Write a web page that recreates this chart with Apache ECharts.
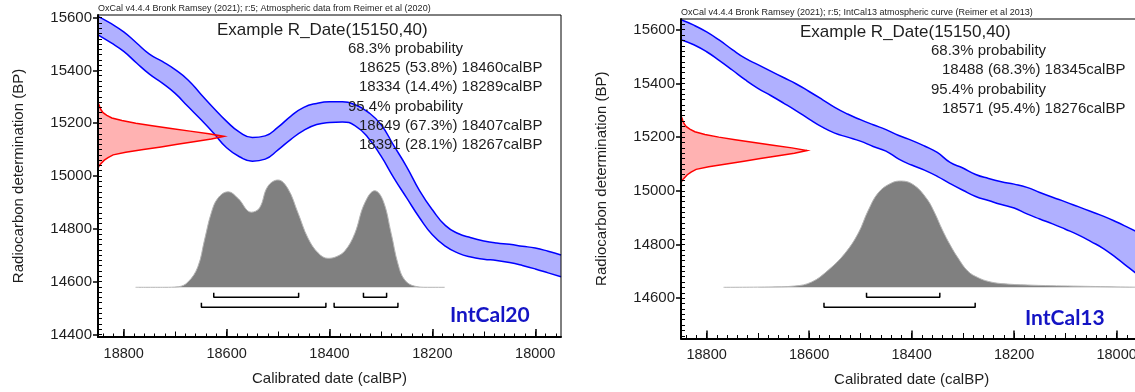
<!DOCTYPE html>
<html>
<head>
<meta charset="utf-8">
<title>Example R_Date(15150,40) - IntCal20 / IntCal13</title>
<script src="https://cdn.jsdelivr.net/npm/echarts@6/dist/echarts.min.js"></script>
<style>
    html, body { margin: 0; padding: 0; background: #fff; }
    #chart { width: 1135px; height: 392px; }
</style>
</head>
<body>
<div id="chart"></div>
<script>
// 日历年 (calBP)，校正曲线的取样点
const years = [18850, 18825, 18800, 18775, 18750, 18725, 18700, 18675, 18650, 18625,
    18600, 18575, 18550, 18525, 18500, 18475, 18450, 18425, 18400, 18375,
    18350, 18325, 18300, 18275, 18250, 18225, 18200, 18175, 18150, 18125,
    18100, 18075, 18050, 18025, 18000, 17975, 17950]

// IntCal20 曲线上下沿 (BP)
const upper20 = [15605, 15578, 15546, 15504, 15462, 15434, 15403, 15364, 15310, 15257,
    15207, 15166, 15146, 15152, 15185, 15227, 15260, 15275, 15281, 15281,
    15270, 15242, 15195, 15115, 15035, 14945, 14872, 14813, 14782, 14766,
    14754, 14746, 14741, 14734, 14727, 14715, 14701]
const lower20 = [15535, 15505, 15472, 15428, 15386, 15352, 15313, 15263, 15214, 15162,
    15107, 15073, 15056, 15064, 15099, 15139, 15173, 15195, 15203, 15205,
    15190, 15145, 15076, 14993, 14917, 14842, 14777, 14734, 14708, 14693,
    14685, 14680, 14672, 14661, 14648, 14633, 14618]

// IntCal13 曲线上下沿 (BP)
const upper13 = [15637, 15617, 15592, 15561, 15526, 15494, 15470, 15446, 15422, 15398,
    15370, 15341, 15311, 15286, 15265, 15246, 15228, 15206, 15188, 15167,
    15143, 15106, 15085, 15061, 15046, 15034, 15025, 15013, 14994, 14976,
    14959, 14941, 14923, 14905, 14884, 14861, 14838]
const lower13 = [15563, 15544, 15518, 15485, 15450, 15414, 15382, 15355, 15327, 15298,
    15267, 15238, 15215, 15200, 15185, 15165, 15148, 15118, 15096, 15077,
    15054, 15027, 15002, 14979, 14964, 14949, 14936, 14914, 14895, 14877,
    14857, 14836, 14811, 14784, 14749, 14712, 14675]

// R_Date(15150,40) 的测量分布 (相对概率)
const redBP = [15030, 15040, 15050, 15060, 15070, 15080, 15090, 15100, 15110, 15120,
    15130, 15140, 15150, 15160, 15170, 15180, 15190, 15200, 15210, 15220,
    15230, 15240, 15250, 15260, 15270, 15278]
const redProb = [0, 0.01, 0.03, 0.05, 0.08, 0.12, 0.22, 0.36, 0.50, 0.63,
    0.76, 0.90, 1.0, 0.88, 0.73, 0.58, 0.43, 0.30, 0.19, 0.11,
    0.07, 0.04, 0.025, 0.015, 0.008, 0]

// 校正后的日历年分布 (相对概率)
const cal20Years = [18777, 18720, 18694, 18675, 18656, 18643, 18630, 18617, 18597, 18578,
    18552, 18536, 18520, 18500, 18481, 18461, 18442, 18422, 18403, 18387,
    18370, 18351, 18332, 18312, 18296, 18280, 18267, 18254, 18234, 18210, 18176]
const cal20Prob = [0, 0, 0.005, 0.05, 0.19, 0.44, 0.69, 0.83, 0.89, 0.83,
    0.70, 0.74, 0.94, 1.0, 0.92, 0.69, 0.46, 0.32, 0.27, 0.285,
    0.34, 0.50, 0.78, 0.90, 0.81, 0.50, 0.22, 0.07, 0.01, 0, 0]

const cal13Years = [18767, 18680, 18628, 18595, 18563, 18530, 18504, 18485, 18465, 18440,
    18420, 18395, 18370, 18355, 18340, 18325, 18310, 18290, 18270, 18250,
    18225, 18165, 18070, 17950]
const cal13Prob = [0, 0.003, 0.012, 0.05, 0.16, 0.32, 0.51, 0.72, 0.89, 0.98,
    1.0, 0.96, 0.83, 0.70, 0.54, 0.40, 0.28, 0.15, 0.09, 0.055,
    0.035, 0.02, 0.01, 0]

// 置信区间 (from, to)
const ranges20_68 = [[18625, 18460], [18334, 18289]]
const ranges20_95 = [[18649, 18407], [18391, 18267]]
const ranges13_68 = [[18488, 18345]]
const ranges13_95 = [[18571, 18276]]

// 刻度标签
const xTicks = [18800, 18600, 18400, 18200, 18000]
const yTicks20 = [14400, 14600, 14800, 15000, 15200, 15400, 15600]
const yTicks13 = [14600, 14800, 15000, 15200, 15400, 15600]

// 文字
const header20 = 'OxCal v4.4.4 Bronk Ramsey (2021); r:5; Atmospheric data from Reimer et al (2020)'
const header13 = 'OxCal v4.4.4 Bronk Ramsey (2021); r:5; IntCal13 atmospheric curve (Reimer et al 2013)'
const title = 'Example R_Date(15150,40)'
const lines20 = [
    ['h', '68.3% probability'],
    ['r', '18625 (53.8%) 18460calBP'],
    ['r', '18334 (14.4%) 18289calBP'],
    ['h', '95.4% probability'],
    ['r', '18649 (67.3%) 18407calBP'],
    ['r', '18391 (28.1%) 18267calBP']
]
const lines13 = [
    ['h', '68.3% probability'],
    ['r', '18488 (68.3%) 18345calBP'],
    ['h', '95.4% probability'],
    ['r', '18571 (95.4%) 18276calBP']
]

const FONT = '"Liberation Sans", Arial, sans-serif'
const TEXT_COLOR = '#1e1e1e'

// 两个面板的版式
const panels = [
    {
        left: 98, top: 15, width: 463, height: 322,
        yMin: 14390, yMax: 15610, yTicks: yTicks20,
        baseline: 287.3, peak: 180,
        upper: upper20, lower: lower20,
        calYears: cal20Years, calProb: cal20Prob,
        r68: ranges20_68, r95: ranges20_95,
        header: header20, headerY: 9, titleY: 30, lines: lines20,
        tag: 'IntCal20', tagX: 450, tagY: 315
    },
    {
        left: 681, top: 19, width: 461.25, height: 319.5,
        yMin: 14450, yMax: 15640, yTicks: yTicks13,
        baseline: 287.3, peak: 181,
        upper: upper13, lower: lower13,
        calYears: cal13Years, calProb: cal13Prob,
        r68: ranges13_68, r95: ranges13_95,
        header: header13, headerY: 13, titleY: 32.3, lines: lines13,
        tag: 'IntCal13', tagX: 1025, tagY: 318
    }
]

const X_MIN = 17950
const X_MAX = 18850
const RED_PEAK_PX = 126

function range(from, to, step) {
    const out = []
    for (let v = from; v <= to; v += step) out.push(v)
    return out
}

const grids = []
const xAxes = []
const yAxes = []
const series = []
const graphics = []

panels.forEach((p, idx) => {
    const gx = idx * 4
    const gy = idx * 3
    const unit = p.baseline - p.peak
    const distMax = (p.baseline - p.top) / unit
    const distMin = -(p.top + p.height - p.baseline) / unit

    grids.push({
        left: p.left, top: p.top, width: p.width, height: p.height,
        outerBoundsMode: 'none', containLabel: false, z: 10,
        show: true, borderColor: '#000', borderWidth: 1, backgroundColor: 'transparent'
    })

    const xBase = {
        type: 'value', gridIndex: idx, min: X_MIN, max: X_MAX, inverse: true,
        position: 'bottom', splitLine: { show: false }, z: 10
    }
    // 主刻度 + 标签
    xAxes.push(Object.assign({}, xBase, {
        axisLine: { onZero: false, lineStyle: { color: '#000', width: 2 } },
        axisTick: { inside: true, length: 8, customValues: xTicks, lineStyle: { color: '#000', width: 1.5 } },
        axisLabel: {
            customValues: xTicks, formatter: v => String(v), margin: 9,
            color: TEXT_COLOR, fontSize: 14.5, fontFamily: FONT
        },
        name: 'Calibrated date (calBP)', nameLocation: 'middle', nameGap: 34,
        nameTextStyle: { color: TEXT_COLOR, fontSize: 15, fontFamily: FONT }
    }))
    // 中刻度 (100)
    xAxes.push(Object.assign({}, xBase, {
        axisLine: { show: false, onZero: false },
        axisTick: { inside: true, length: 5.5, customValues: range(18000, 18800, 100), lineStyle: { color: '#000', width: 1 } },
        axisLabel: { show: false }
    }))
    // 小刻度 (20)
    xAxes.push(Object.assign({}, xBase, {
        axisLine: { show: false, onZero: false },
        axisTick: { inside: true, length: 3.5, customValues: range(17960, 18840, 20), lineStyle: { color: '#000', width: 1 } },
        axisLabel: { show: false }
    }))
    // 红色分布的横向概率轴 (隐藏)
    xAxes.push({ type: 'value', gridIndex: idx, min: 0, max: p.width / RED_PEAK_PX, show: false, position: 'bottom' })

    const yBase = {
        type: 'value', gridIndex: idx, min: p.yMin, max: p.yMax,
        position: 'left', splitLine: { show: false }, z: 10
    }
    yAxes.push(Object.assign({}, yBase, {
        axisLine: { onZero: false, lineStyle: { color: '#000', width: 2 } },
        axisTick: { inside: false, length: 5, customValues: p.yTicks, lineStyle: { color: '#000', width: 1.5 } },
        axisLabel: {
            customValues: p.yTicks, formatter: v => String(v), margin: 6,
            color: TEXT_COLOR, fontSize: 15, fontFamily: FONT
        },
        name: 'Radiocarbon determination (BP)', nameLocation: 'middle', nameGap: 72, nameRotate: 90,
        nameTextStyle: { color: TEXT_COLOR, fontSize: 15, fontFamily: FONT }
    }))
    yAxes.push(Object.assign({}, yBase, {
        axisLine: { show: false, onZero: false },
        axisTick: {
            inside: true, length: 4,
            customValues: range(Math.ceil((p.yMin + 1) / 20) * 20, p.yMax - 1, 20),
            lineStyle: { color: '#000', width: 1 }
        },
        axisLabel: { show: false }
    }))
    // 日历年分布的纵向概率轴 (隐藏)
    yAxes.push({ type: 'value', gridIndex: idx, min: distMin, max: distMax, show: false, position: 'left' })

    // 校正曲线带：上沿向下填充淡紫色，下沿向下填充白色，两者之间留下色带
    series.push({
        type: 'line', xAxisIndex: gx, yAxisIndex: gy,
        data: years.map((y, i) => [y, p.upper[i]]),
        smooth: true, symbol: 'none', z: 1,
        lineStyle: { color: '#0000ff', width: 1.5 },
        areaStyle: { color: '#b0b0ff', opacity: 1 }
    })
    series.push({
        type: 'line', xAxisIndex: gx, yAxisIndex: gy,
        data: years.map((y, i) => [y, p.lower[i]]),
        smooth: true, symbol: 'none', z: 1,
        lineStyle: { color: '#0000ff', width: 1.5 },
        areaStyle: { color: '#ffffff', opacity: 1 }
    })

    // 日历年分布 (灰色)
    series.push({
        type: 'line', xAxisIndex: gx, yAxisIndex: gy + 2,
        data: p.calYears.map((y, i) => [y, p.calProb[i]]),
        smooth: 0.4, symbol: 'none', z: 2,
        lineStyle: { color: '#b4b4b4', width: 1 },
        areaStyle: { color: '#808080', opacity: 1 }
    })

    // 置信区间括号
    const tick = 4.5 / unit
    const bracket = (r, levelPx) => {
        const lv = -levelPx / unit
        series.push({
            type: 'line', xAxisIndex: gx, yAxisIndex: gy + 2,
            data: [[r[0], lv + tick], [r[0], lv], [r[1], lv], [r[1], lv + tick]],
            symbol: 'none', z: 4,
            lineStyle: { color: '#000', width: 1.5 }
        })
    }
    p.r68.forEach(r => bracket(r, 10))
    p.r95.forEach(r => bracket(r, 20))

    // 测量分布 (红色)
    series.push({
        type: 'custom', xAxisIndex: gx + 3, yAxisIndex: gy, z: 4, clip: true,
        data: redBP.map((bp, i) => [redProb[i], bp]),
        encode: { x: 0, y: 1 },
        renderItem: function (params, api) {
            if (params.dataIndex !== 0) return null
            const pts = redBP.map((bp, i) => api.coord([redProb[i], bp]))
            return {
                type: 'group',
                children: [
                    { type: 'polygon', shape: { points: pts }, style: { fill: 'rgba(255,0,0,0.3)' } },
                    { type: 'polyline', shape: { points: pts }, style: { fill: 'none', stroke: '#ff0000', lineWidth: 1.5 } }
                ]
            }
        }
    })

    // 文字
    const txt = (x, y, text, size, extra) => graphics.push({
        type: 'text', x: x, y: y, z: 20,
        style: Object.assign({
            text: text, fontSize: size, fontFamily: FONT, fill: TEXT_COLOR,
            align: 'left', verticalAlign: 'middle', textAlign: 'left', textVerticalAlign: 'middle'
        }, extra || {})
    })
    txt(p.left, p.headerY, p.header, 9)
    txt(p.left + 119, p.titleY, title, 17)
    p.lines.forEach((l, i) => {
        txt(p.left + (l[0] === 'h' ? 250 : 261), p.titleY + 18.8 + i * 19.2, l[1], 15)
    })
    txt(p.tagX, p.tagY, p.tag, 21, { fontFamily: 'Lato, "Open Sans", sans-serif', fontWeight: 'bold', fill: '#1414c4' })
})

const chart = echarts.init(document.getElementById('chart'))
chart.setOption({
    animation: false,
    backgroundColor: '#fff',
    grid: grids,
    xAxis: xAxes,
    yAxis: yAxes,
    series: series,
    graphic: graphics
})

window.addEventListener('resize', () => {
    chart.resize()
})
</script>
</body>
</html>
